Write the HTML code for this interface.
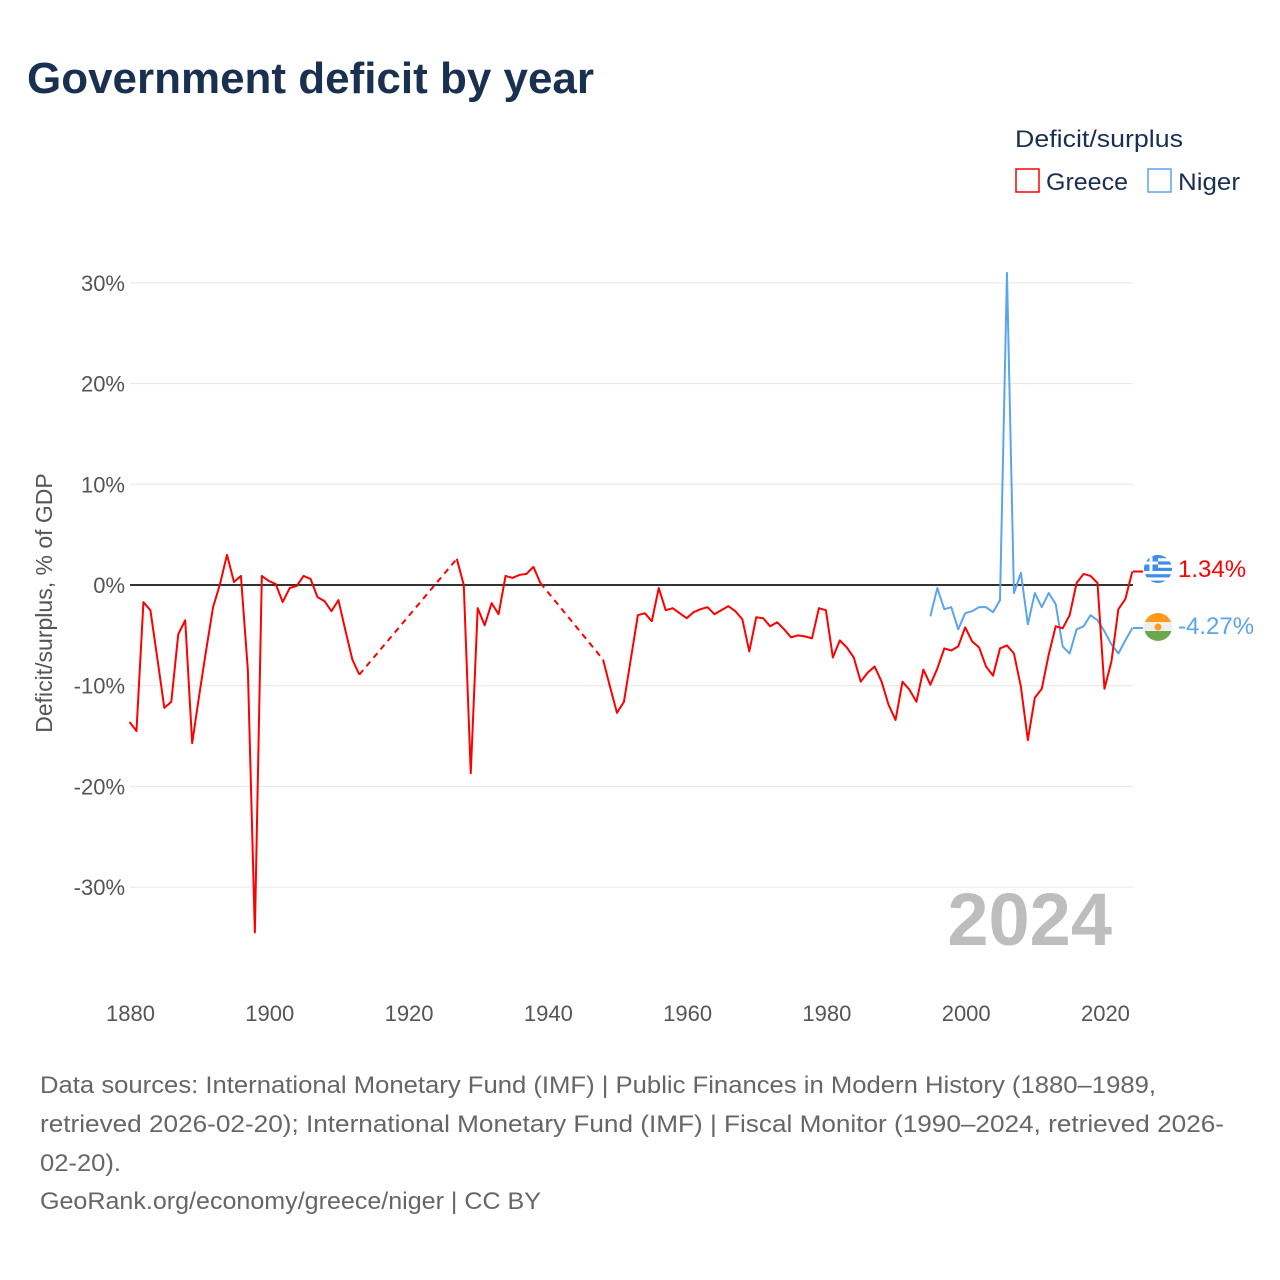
<!DOCTYPE html>
<html><head><meta charset="utf-8"><style>
html,body{margin:0;padding:0;background:#fff;}
svg{display:block;font-family:"Liberation Sans",sans-serif;}
</style></head><body>
<svg id="chart" width="1280" height="1280" viewBox="0 0 1280 1280">
<text x="27" y="93" font-size="44" font-weight="bold" fill="#1a3050" textLength="567" lengthAdjust="spacingAndGlyphs">Government deficit by year</text>
<g>
<text x="1015" y="147" font-size="24" fill="#1a3050" textLength="168" lengthAdjust="spacingAndGlyphs">Deficit/surplus</text>
<g><rect x="1016" y="169" width="23" height="23" fill="none" stroke="#ff0000" stroke-width="1.5"/><text x="1046" y="190" font-size="24" fill="#1a3050" textLength="82" lengthAdjust="spacingAndGlyphs">Greece</text></g>
<g><rect x="1148" y="169" width="23" height="23" fill="none" stroke="#5aa5eb" stroke-width="1.5"/><text x="1178" y="190" font-size="24" fill="#1a3050" textLength="62" lengthAdjust="spacingAndGlyphs">Niger</text></g>
</g>
<g id="grid"></g>
<g id="yticks"></g>
<g id="xticks"></g>
<text x="52" y="603" font-size="23" fill="#555" text-anchor="middle" transform="rotate(-90 52 603)">Deficit/surplus, % of GDP</text>
<text x="1112" y="945" font-size="74" font-weight="bold" fill="#bdbdbd" text-anchor="end">2024</text>
<g id="series"></g>
<g>
<line x1="1133" y1="571.5" x2="1143" y2="571.5" stroke="#ff0000" stroke-width="2"/>
<line x1="1133" y1="628" x2="1143" y2="628" stroke="#5aa5eb" stroke-width="2"/>
<g>
<clipPath id="cg"><circle cx="1158" cy="569" r="14"/></clipPath>
<g clip-path="url(#cg)"><rect x="1144" y="555" width="28" height="28" fill="#fff"/>
<rect x="1144" y="555" width="28" height="3.2" fill="#3d8fe8"/><rect x="1144" y="561.4" width="28" height="3.2" fill="#3d8fe8"/><rect x="1144" y="567.8" width="28" height="3.2" fill="#3d8fe8"/><rect x="1144" y="574.2" width="28" height="3.2" fill="#3d8fe8"/><rect x="1144" y="580.6" width="28" height="3.2" fill="#3d8fe8"/>
<rect x="1144" y="555" width="14" height="16" fill="#3d8fe8"/><rect x="1144" y="561.5" width="14" height="3" fill="#fff"/><rect x="1149.5" y="555" width="3" height="16" fill="#fff"/></g>
</g>
<text x="1178" y="577" font-size="24" fill="#ff0000">1.34%</text>
<g>
<clipPath id="cn"><circle cx="1158" cy="627" r="14"/></clipPath>
<g clip-path="url(#cn)"><rect x="1144" y="613" width="28" height="10" fill="#ff9a1a"/><rect x="1144" y="622" width="28" height="10" fill="#eee"/><rect x="1144" y="631" width="28" height="10" fill="#6aa84f"/><circle cx="1158" cy="627" r="3.5" fill="#ff9a1a"/></g>
</g>
<text x="1178" y="634" font-size="24" fill="#5aa5eb">-4.27%</text>
</g>
<g font-size="24" fill="#666">
<text x="40" y="1093" textLength="1116" lengthAdjust="spacingAndGlyphs">Data sources: International Monetary Fund (IMF) | Public Finances in Modern History (1880–1989,</text>
<text x="40" y="1132" textLength="1184" lengthAdjust="spacingAndGlyphs">retrieved 2026-02-20); International Monetary Fund (IMF) | Fiscal Monitor (1990–2024, retrieved 2026-</text>
<text x="40" y="1171" textLength="81" lengthAdjust="spacingAndGlyphs">02-20).</text>
<text x="40" y="1209" textLength="501" lengthAdjust="spacingAndGlyphs">GeoRank.org/economy/greece/niger | CC BY</text>
</g>
</svg>
<script>
const startYear = 1880;
const greeceValues = [-13.6,-14.5,-1.7,-2.5,-7.3,-12.2,-11.6,-4.9,-3.5,-15.7,-11,-6.5,-2.2,0.1,3.0,0.3,0.9,-8.5,-34.5,0.9,
0.4,0.1,-1.7,-0.3,-0.1,0.9,0.6,-1.2,-1.6,-2.6,-1.5,-4.5,-7.4,-8.9,null,null,null,null,null,null,
null,null,null,null,null,null,null,2.6,0,-18.7,-2.3,-4.0,-1.8,-2.9,0.9,0.7,1.0,1.1,1.8,0.2,
null,null,null,null,null,null,null,null,-7.4,-10.1,-12.7,-11.6,-7.3,-3.0,-2.8,-3.6,-0.3,-2.5,-2.3,-2.8,
-3.3,-2.7,-2.4,-2.2,-2.9,-2.5,-2.1,-2.6,-3.4,-6.6,-3.2,-3.3,-4.1,-3.7,-4.4,-5.2,-5.0,-5.1,-5.3,-2.3,
-2.5,-7.2,-5.5,-6.2,-7.2,-9.6,-8.7,-8.1,-9.6,-11.9,-13.4,-9.6,-10.4,-11.6,-8.4,-9.9,-8.3,-6.3,-6.5,-6.1,
-4.2,-5.6,-6.2,-8.1,-9.0,-6.3,-6.0,-6.8,-10.1,-15.4,-11.2,-10.3,-6.9,-4.1,-4.3,-3.0,0.2,1.1,0.9,0.2,
-10.3,-7.6,-2.4,-1.4,1.34];
const nigerStart = 1995;
const nigerValues = [-3.1,-0.3,-2.4,-2.2,-4.4,-2.8,-2.6,-2.2,-2.2,-2.7,-1.5,31.0,-0.8,1.2,-3.9,-0.8,-2.2,-0.8,-1.9,-6.1,-6.8,-4.4,-4.1,-3.0,-3.5,-4.6,-5.9,-6.8,-5.5,-4.27];
const yTicks = [30,20,10,0,-10,-20,-30];
const yTickLabels = ["30%","20%","10%","0%","-10%","-20%","-30%"];
const xTicks = [1880,1900,1920,1940,1960,1980,2000,2020];

const NS = "http://www.w3.org/2000/svg";
const X0 = 129.5, PX = 6.964, Y0 = 585, PY = 10.07, LEFT = 130, RIGHT = 1133;
function xs(yr){ return X0 + (yr - startYear) * PX; }
function ys(v){ return Y0 - v * PY; }
function mk(tag, attrs, parent){ const e = document.createElementNS(NS, tag); for (const k in attrs) e.setAttribute(k, attrs[k]); parent.appendChild(e); return e; }

const grid = document.getElementById('grid'), yt = document.getElementById('yticks'), xt = document.getElementById('xticks'), ser = document.getElementById('series');
yTicks.forEach((v, i) => {
  if (v !== 0) {
    const l = mk('line', {x1: LEFT, x2: RIGHT, y1: ys(v), y2: ys(v), stroke: '#e6e6e6', 'stroke-width': 1}, grid);
    
    
  }
  const t = mk('text', {x: 125, y: ys(v) + 8, 'font-size': 22, fill: '#555', 'text-anchor': 'end'}, yt);
  t.textContent = yTickLabels[i];
  
  
});
xTicks.forEach(yr => {
  const t = mk('text', {x: xs(yr) + 1, y: 1021, 'font-size': 22, fill: '#555', 'text-anchor': 'middle'}, xt);
  t.textContent = String(yr);
  
  
});

function drawSeries(vals, start, color, name) {
  let seg = [], lastPt = null;
  const flush = () => { if (seg.length > 1) { const p = mk('polyline', {points: seg.map(q => q.join(',')).join(' '), fill: 'none', stroke: color, 'stroke-width': 2, 'stroke-linejoin': 'round'}, ser);
    
     } seg = []; };
  let gap = false;
  vals.forEach((v, i) => {
    if (v === null) { if (seg.length) flush(); gap = true; return; }
    const pt = [xs(start + i), ys(v)];
    if (gap && lastPt) {
      const d = mk('line', {x1: lastPt[0], y1: lastPt[1], x2: pt[0], y2: pt[1], stroke: color, 'stroke-width': 2, 'stroke-dasharray': '6,5'}, ser);
      
      
    }
    gap = false;
    seg.push(pt); lastPt = pt;
  });
  flush();
}
drawSeries(nigerValues, nigerStart, '#5aa5eb', 'niger');
drawSeries(greeceValues, startYear, '#ff0000', 'greece');
const zl = mk('line', {x1: LEFT, x2: RIGHT, y1: ys(0), y2: ys(0), stroke: '#333', 'stroke-width': 2}, grid.parentNode);


ser.parentNode.insertBefore(zl, ser);
</script>
</body></html>
